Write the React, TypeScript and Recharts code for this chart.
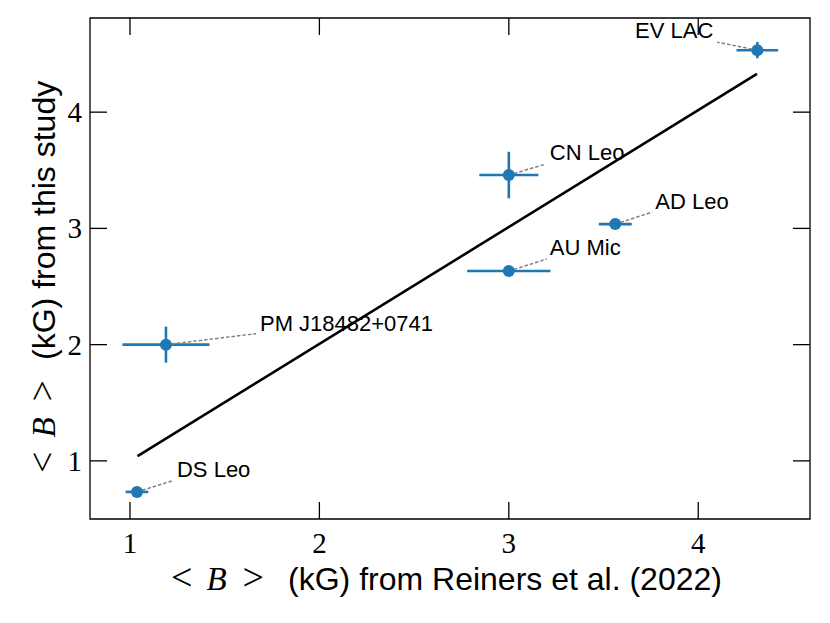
import React from 'react';
import { ComposedChart, Scatter, Line, XAxis, YAxis, ErrorBar, ReferenceArea } from 'recharts';

// ---- data ----
const starNames = ['DS Leo', 'PM J18482+0741', 'AU Mic', 'CN Leo', 'AD Leo', 'EV LAC'];
const reinersB = [1.037, 1.19, 3.0, 3.0, 3.562, 4.312];
const reinersErr = [0.06, 0.23, 0.22, 0.156, 0.087, 0.11];
const thisStudyB = [0.733, 2.0, 2.633, 3.459, 3.037, 4.533];
const thisStudyErr = [0.02, 0.155, 0.02, 0.2, 0.02, 0.07];
const fitX = [1.04, 4.31];
const fitY = [1.04, 4.33];
const xTicks = [1, 2, 3, 4];
const yTicks = [1, 2, 3, 4];
const xDomain: [number, number] = [0.789, 4.59];
const yDomain: [number, number] = [0.5, 4.81];

const points = starNames.map((name, i) => ({
  name,
  x: reinersB[i],
  y: thisStudyB[i],
  ex: reinersErr[i],
  ey: thisStudyErr[i],
}));
const fitData = fitX.map((x, i) => ({ x, y: fitY[i] }));

// ---- layout / styles ----
const CHART_W = 814;
const CHART_H = 607;
const MARGIN = { top: 10, right: 12, bottom: 0, left: 0 };
const X_AXIS_H = 96;
const Y_AXIS_W = 82;
const PLOT_TOP = MARGIN.top;
const PLOT_BOTTOM = CHART_H - MARGIN.bottom - X_AXIS_H;
const PLOT_LEFT = MARGIN.left + Y_AXIS_W;
const PLOT_RIGHT = CHART_W - MARGIN.right;

const BLUE = '#1f77b4';
const SERIF = "'Liberation Serif', 'Times New Roman', serif";
const SANS = "'Liberation Sans', Arial, sans-serif";
const TICK_LEN = 17;
const FRAME_W = 1.3;

const labelStyle: Record<string, { dx: number; dy: number; anchor: 'start' | 'end'; lx: number; ly: number }> = {
  'DS Leo': { dx: 40, dy: -15, anchor: 'start', lx: 35, ly: -11 },
  'PM J18482+0741': { dx: 94, dy: -14, anchor: 'start', lx: 90, ly: -11 },
  'AU Mic': { dx: 41, dy: -16, anchor: 'start', lx: 38, ly: -12 },
  'CN Leo': { dx: 41, dy: -15, anchor: 'start', lx: 37, ly: -11 },
  'AD Leo': { dx: 40, dy: -15, anchor: 'start', lx: 37, ly: -12 },
  'EV LAC': { dx: -44, dy: -12, anchor: 'end', lx: -40, ly: -8 },
};

const PointShape = (props: any) => {
  const { cx, cy, payload } = props;
  const s = labelStyle[payload.name];
  return (
    <g>
      <line
        x1={cx}
        y1={cy}
        x2={cx + s.lx}
        y2={cy + s.ly}
        stroke="#808080"
        strokeWidth={1.5}
        strokeDasharray="3.5 2"
      />
      <circle cx={cx} cy={cy} r={6} fill={BLUE} />
      <text x={cx + s.dx} y={cy + s.dy} textAnchor={s.anchor} fontFamily={SANS} fontSize={22} fill="#000">
        {payload.name}
      </text>
    </g>
  );
};

// bottom axis tick: inward ticks on bottom and top edges + label
const XTick = (props: any) => {
  const { x, payload } = props;
  return (
    <g>
      <line x1={x} y1={PLOT_BOTTOM} x2={x} y2={PLOT_BOTTOM - TICK_LEN} stroke="#000" strokeWidth={FRAME_W} />
      <line x1={x} y1={PLOT_TOP} x2={x} y2={PLOT_TOP + TICK_LEN} stroke="#000" strokeWidth={FRAME_W} />
      <text x={x} y={PLOT_BOTTOM + 34} textAnchor="middle" fontFamily={SERIF} fontSize={29} fill="#000">
        {payload.value}
      </text>
    </g>
  );
};
// left axis tick: inward ticks on left and right edges + label
const YTick = (props: any) => {
  const { y, payload } = props;
  return (
    <g>
      <line x1={PLOT_LEFT} y1={y} x2={PLOT_LEFT + TICK_LEN} y2={y} stroke="#000" strokeWidth={FRAME_W} />
      <line x1={PLOT_RIGHT} y1={y} x2={PLOT_RIGHT - TICK_LEN} y2={y} stroke="#000" strokeWidth={FRAME_W} />
      <text x={PLOT_LEFT - 8} y={y + 10} textAnchor="end" fontFamily={SERIF} fontSize={29} fill="#000">
        {payload.value}
      </text>
    </g>
  );
};

const MathB = () => [
  <tspan key="lt" fontFamily={SERIF} fontSize={38}>&lt;</tspan>,
  <tspan key="b" dx={14} fontFamily={SERIF} fontStyle="italic" fontSize={33}>B</tspan>,
  <tspan key="gt" dx={16} fontFamily={SERIF} fontSize={38}>&gt;</tspan>,
];

const XLabel = () => (
  <text x={163} y={582} fill="#000">
    {MathB()}
    <tspan dx={24} fontFamily={SANS} fontSize={32}>(kG) from Reiners et al. (2022)</tspan>
  </text>
);

const YLabel = () => (
  <text transform="translate(47, 465) rotate(-90)" x={0} y={0} fill="#000">
    {MathB()}
    <tspan dx={20} fontFamily={SANS} fontSize={32}>(kG) from this study</tspan>
  </text>
);

export default function App() {
  return (
    <ComposedChart width={CHART_W} height={CHART_H} margin={MARGIN}>
      <XAxis
        type="number"
        dataKey="x"
        domain={xDomain}
        ticks={xTicks}
        orientation="bottom"
        height={X_AXIS_H}
        tickSize={0}
        tickMargin={0}
        tickLine={false}
        axisLine={false}
        tick={<XTick />}
        label={{ content: () => <XLabel /> }}
      />
      <YAxis
        type="number"
        dataKey="y"
        domain={yDomain}
        ticks={yTicks}
        orientation="left"
        width={Y_AXIS_W}
        tickSize={0}
        tickMargin={0}
        tickLine={false}
        axisLine={false}
        tick={<YTick />}
        label={{ content: () => <YLabel /> }}
      />
      <ReferenceArea
        x1={xDomain[0]}
        x2={xDomain[1]}
        y1={yDomain[0]}
        y2={yDomain[1]}
        fill="none"
        fillOpacity={0}
        stroke="#000"
        strokeWidth={FRAME_W}
        ifOverflow="visible"
      />
      <Line
        data={fitData}
        dataKey="y"
        type="linear"
        stroke="#000"
        strokeWidth={2.6}
        dot={false}
        activeDot={false}
        isAnimationActive={false}
      />
      <Scatter data={points} dataKey="y" fill={BLUE} shape={PointShape} isAnimationActive={false}>
        <ErrorBar dataKey="ex" direction="x" width={0} stroke={BLUE} strokeWidth={2.6} isAnimationActive={false} />
        <ErrorBar dataKey="ey" direction="y" width={0} stroke={BLUE} strokeWidth={2.6} isAnimationActive={false} />
      </Scatter>
    </ComposedChart>
  );
}
